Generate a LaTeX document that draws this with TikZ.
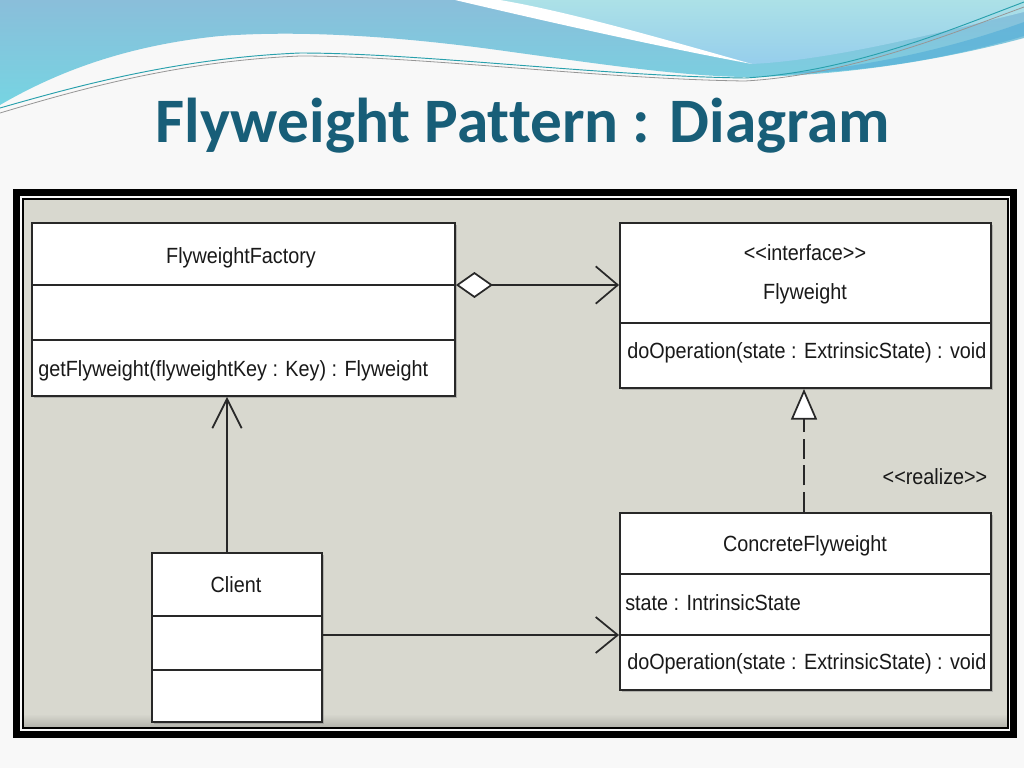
\documentclass[tikz,border=0pt]{standalone}
\usepackage{fontspec}
\setmainfont{Carlito}[Ligatures={TeX,NoCommon}]
\newfontfamily\umlfont[FakeStretch=0.9]{Liberation Sans}
\usetikzlibrary{arrows.meta,shadows,fit}
\definecolor{slidebg}{RGB}{248,248,248}
\definecolor{panel}{RGB}{216,216,207}
\definecolor{boxline}{RGB}{40,40,40}
\definecolor{umlink}{RGB}{25,25,25}
\definecolor{titleink}{RGB}{24,94,120}
\definecolor{bluetop}{RGB}{138,190,218}
\definecolor{bluebot}{RGB}{118,212,226}
\definecolor{aquatop}{RGB}{172,225,231}
\definecolor{aquabot}{RGB}{150,206,236}
\definecolor{stripe}{RGB}{88,176,216}
\definecolor{tealline}{RGB}{40,160,172}
\definecolor{grayline}{RGB}{150,150,150}
\begin{document}
\begin{tikzpicture}[x=0.75pt,y=-0.75pt,
  classbox/.style={draw=boxline,line width=1.4pt,fill=white,inner sep=0pt,
    drop shadow={shadow xshift=1.3pt,shadow yshift=-1.3pt,opacity=.45}},
  divider/.style={draw=boxline,line width=1.4pt},
  umltext/.style={font=\umlfont\fontsize{16.5}{19}\selectfont,text=umlink,inner sep=0pt,anchor=mid},
  assoc/.style={draw=boxline,line width=1.3pt},
  titletext/.style={font=\bfseries\fontsize{47.5}{56}\selectfont,text=titleink,inner sep=0pt}
]
\useasboundingbox (0,0) rectangle (1024,768);
\fill[slidebg] (0,0) rectangle (1024,768);

% ---- top banner ----
\shade[top color=bluetop,bottom color=bluebot]
  (0,0) -- (1024,0) -- (1024,38) .. controls (950,58) and (850,76) .. (745,77)
  .. controls (680,76) and (600,64) .. (512,52)
  .. controls (400,36) and (300,30) .. (220,36)
  .. controls (130,45) and (60,70) .. (0,105) -- cycle;
\shade[top color=aquatop,bottom color=aquabot]
  (493,0) -- (1024,0) -- (1024,12) .. controls (930,35) and (830,60) .. (752,64)
  .. controls (680,45) and (580,15) .. (493,0) -- cycle;
\fill[stripe,opacity=.7]
  (780,74) .. controls (880,66) and (960,45) .. (1024,22) -- (1024,36)
  .. controls (950,58) and (870,72) .. (780,74) -- cycle;
\fill[white]
  (455,0) .. controls (540,20) and (650,45) .. (752,64)
  .. controls (660,38) and (570,12) .. (500,0) -- cycle;
\draw[tealline,line width=.7pt]
  (0,108) .. controls (80,85) and (180,58) .. (300,53)
  .. controls (420,53) and (600,76) .. (745,78)
  .. controls (850,72) and (950,30) .. (1024,2);
\draw[grayline,line width=.6pt]
  (0,113) .. controls (80,89) and (180,61) .. (300,56)
  .. controls (420,56) and (600,79) .. (745,81)
  .. controls (850,75) and (950,34) .. (1024,7);

% ---- title ----
\node[titletext,anchor=base] (title) at (523,142) {Flyweight Pattern : Diagram};

% ---- frame ----
\draw[black,line width=5.25pt] (16.5,192.5) rectangle (1013.5,734.5);
\fill[panel] (23,199) rectangle (1008,728);
\shade[top color=panel,bottom color=panel!82!black] (23,714) rectangle (1008,728);
\draw[black,line width=1.1pt] (23,199) rectangle (1008,728);

% ---- class boxes ----
\node[classbox,fit={(32,223) (455,396)}] (fac) {};
\node[classbox,fit={(620,223) (991,388)}] (fw) {};
\node[classbox,fit={(620,513) (991,690)}] (cfw) {};
\node[classbox,fit={(152,553) (322,722)}] (cli) {};

\draw[divider] (32,285) -- (455,285);
\draw[divider] (32,340) -- (455,340);
\draw[divider] (620,323) -- (991,323);
\draw[divider] (620,574) -- (991,574);
\draw[divider] (620,635) -- (991,635);
\draw[divider] (152,616) -- (322,616);
\draw[divider] (152,670) -- (322,670);

% ---- texts ----
\node[umltext] (facname) at (241,260) {FlyweightFactory};
\node[umltext,anchor=mid west] (facop) at (38,373) {getFlyweight(flyweightKey : Key) : Flyweight};
\node[umltext] (fwst) at (805,257) {<\kern0pt<interface>\kern0pt>};
\node[umltext] (fwname) at (805,296) {Flyweight};
\node[umltext,anchor=mid west] (fwop) at (627,355) {doOperation(state : ExtrinsicState) : void};
\node[umltext] (cfwname) at (805,548) {ConcreteFlyweight};
\node[umltext,anchor=mid west] (cfwattr) at (625,607) {state : IntrinsicState};
\node[umltext,anchor=mid west] (cfwop) at (627,666) {doOperation(state : ExtrinsicState) : void};
\node[umltext] (cliname) at (236,589) {Client};
\node[umltext] (rlabel) at (935,481) {<\kern0pt<realize>\kern0pt>};

% ---- connectors ----
\coordinate (aggY) at (0,285);
\coordinate (useX) at (227,0);
\coordinate (callY) at (0,635);
\coordinate (realX) at (804,0);

\draw[assoc,{Diamond[fill=white,length=27.75pt,width=19.5pt]}-{Straight Barb[length=16.5pt,width=28pt]}]
  (fac.east |- aggY) -- (fw.west |- aggY);
\draw[assoc,-{Straight Barb[length=22pt,width=22pt]}]
  (cli.north -| useX) -- (fac.south -| useX);
\draw[assoc,-{Straight Barb[length=16.5pt,width=27pt]}]
  (cli.east |- callY) -- (cfw.west |- callY);
\draw[assoc,dash pattern=on 15pt off 5pt,-{Triangle[fill=white,length=23pt,width=19.5pt]}]
  (cfw.north -| realX) -- (fw.south -| realX);
\end{tikzpicture}
\end{document}
